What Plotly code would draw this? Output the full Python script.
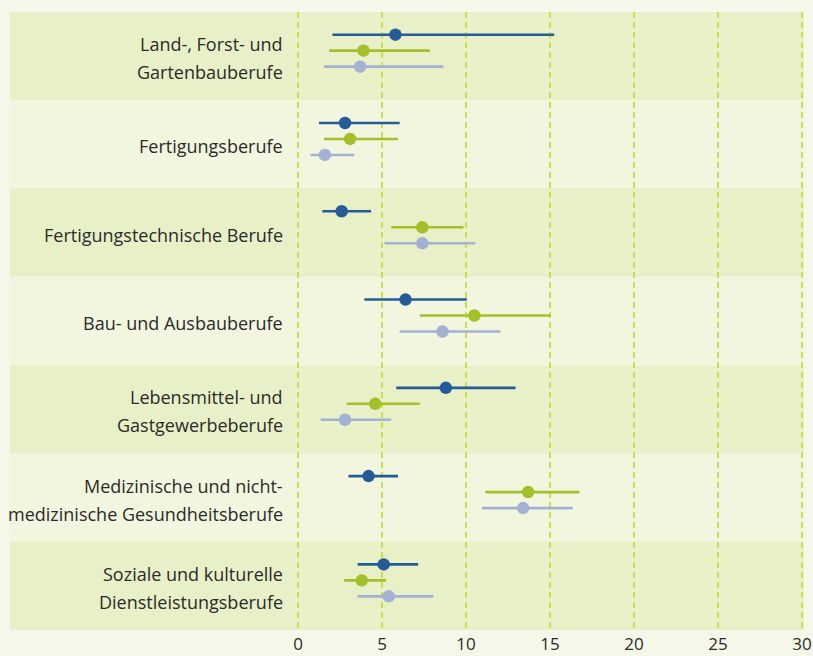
import plotly.graph_objects as go

categories = [
    "Land-, Forst- und\nGartenbauberufe",
    "Fertigungsberufe",
    "Fertigungstechnische Berufe",
    "Bau- und Ausbauberufe",
    "Lebensmittel- und\nGastgewerbeberufe",
    "Medizinische und nicht-\nmedizinische Gesundheitsberufe",
    "Soziale und kulturelle\nDienstleistungsberufe",
]

blue_val = [5.8, 2.8, 2.6, 6.4, 8.8, 4.2, 5.1]
blue_low = [2.05, 1.25, 1.45, 3.95, 5.85, 3.0, 3.55]
blue_high = [15.25, 6.05, 4.35, 10.05, 12.95, 5.95, 7.15]

green_val = [3.9, 3.1, 7.4, 10.5, 4.6, 13.7, 3.8]
green_low = [1.85, 1.55, 5.55, 7.25, 2.9, 11.15, 2.75]
green_high = [7.85, 5.95, 9.85, 15.05, 7.25, 16.75, 5.25]

light_val = [3.7, 1.6, 7.4, 8.6, 2.8, 13.4, 5.4]
light_low = [1.55, 0.75, 5.15, 6.05, 1.35, 10.95, 3.55]
light_high = [8.65, 3.35, 10.55, 12.05, 5.55, 16.35, 8.05]

x_ticks = [0, 5, 10, 15, 20, 25, 30]

OUTER_BG = "#f5f7e9"
BAND_DARK = "#e8f0c7"
BAND_LIGHT = "#f2f6df"
GRID = "#cbe04a"
TEXT = "#2b2b2b"
FONT = "Open Sans"

series = [
    (blue_val, blue_low, blue_high, "#255b97", -0.243),
    (green_val, green_low, green_high, "#a3c02b", -0.062),
    (light_val, light_low, light_high, "#a3b1d3", 0.119),
]

fig = go.Figure()
n = len(categories)
for vals, lows, highs, color, off in series:
    ys = [i + off for i in range(n)]
    fig.add_trace(go.Scatter(
        x=vals, y=ys, mode="markers",
        marker=dict(size=12.5, color=color, line=dict(width=0)),
        error_x=dict(type="data", symmetric=False,
                     array=[h - v for h, v in zip(highs, vals)],
                     arrayminus=[v - l for v, l in zip(vals, lows)],
                     color=color, thickness=2.6, width=0),
        showlegend=False, hoverinfo="skip",
    ))

W, H = 813, 656
ml, mr, mt, mb = 296, 9, 12, 26
pw = W - ml - mr
PX_PER_UNIT = 16.8
x0_px = 298
xr = [-(x0_px - ml) / PX_PER_UNIT, 30 + ((W - mr) - (x0_px + 30 * PX_PER_UNIT)) / PX_PER_UNIT]

def px_to_paper(px):
    return (px - ml) / pw

shapes = []
for i in range(n):
    shapes.append(dict(
        type="rect", xref="paper", yref="y",
        x0=px_to_paper(10), x1=px_to_paper(804),
        y0=i - 0.5, y1=i + 0.5,
        fillcolor=BAND_DARK if i % 2 == 0 else BAND_LIGHT,
        line=dict(width=0), layer="below",
    ))

annotations = []
for i, cat in enumerate(categories):
    lines = cat.split("\n")
    k = len(lines)
    for j, line in enumerate(lines):
        shift = ((k - 1) / 2 - j) * 28 - 2
        annotations.append(dict(
            text=line, xref="paper", yref="y",
            x=px_to_paper(285), y=i, xanchor="right", yanchor="middle",
            yshift=shift, showarrow=False,
            font=dict(family=FONT, size=18, color=TEXT),
        ))

fig.update_layout(
    width=W, height=H, autosize=False,
    margin=dict(l=ml, r=mr, t=mt, b=mb, pad=0, autoexpand=False),
    paper_bgcolor=OUTER_BG, plot_bgcolor=OUTER_BG,
    shapes=shapes, annotations=annotations,
    xaxis=dict(range=xr, tickvals=x_ticks, ticktext=[str(t) for t in x_ticks],
               showgrid=True, gridcolor=GRID, gridwidth=1.5, griddash="6px,4px",
               zeroline=False, showline=False, ticks="", automargin=False,
               ticklabelstandoff=2,
               tickfont=dict(family=FONT, size=17, color=TEXT)),
    yaxis=dict(range=[n - 0.5, -0.5], showgrid=False, zeroline=False,
               showticklabels=False, ticks="", showline=False, automargin=False),
    font=dict(family=FONT),
)

page_js = (
    "var h=document.documentElement,b=document.body;"
    "[h,b].forEach(function(e){e.style.margin='0';e.style.padding='0';"
    "e.style.overflow='hidden';e.style.background='" + OUTER_BG + "';});"
)

fig.write_html(
    "out.html",
    config={"responsive": False, "displayModeBar": False},
    default_width="813px", default_height="656px",
    post_script=page_js,
)
